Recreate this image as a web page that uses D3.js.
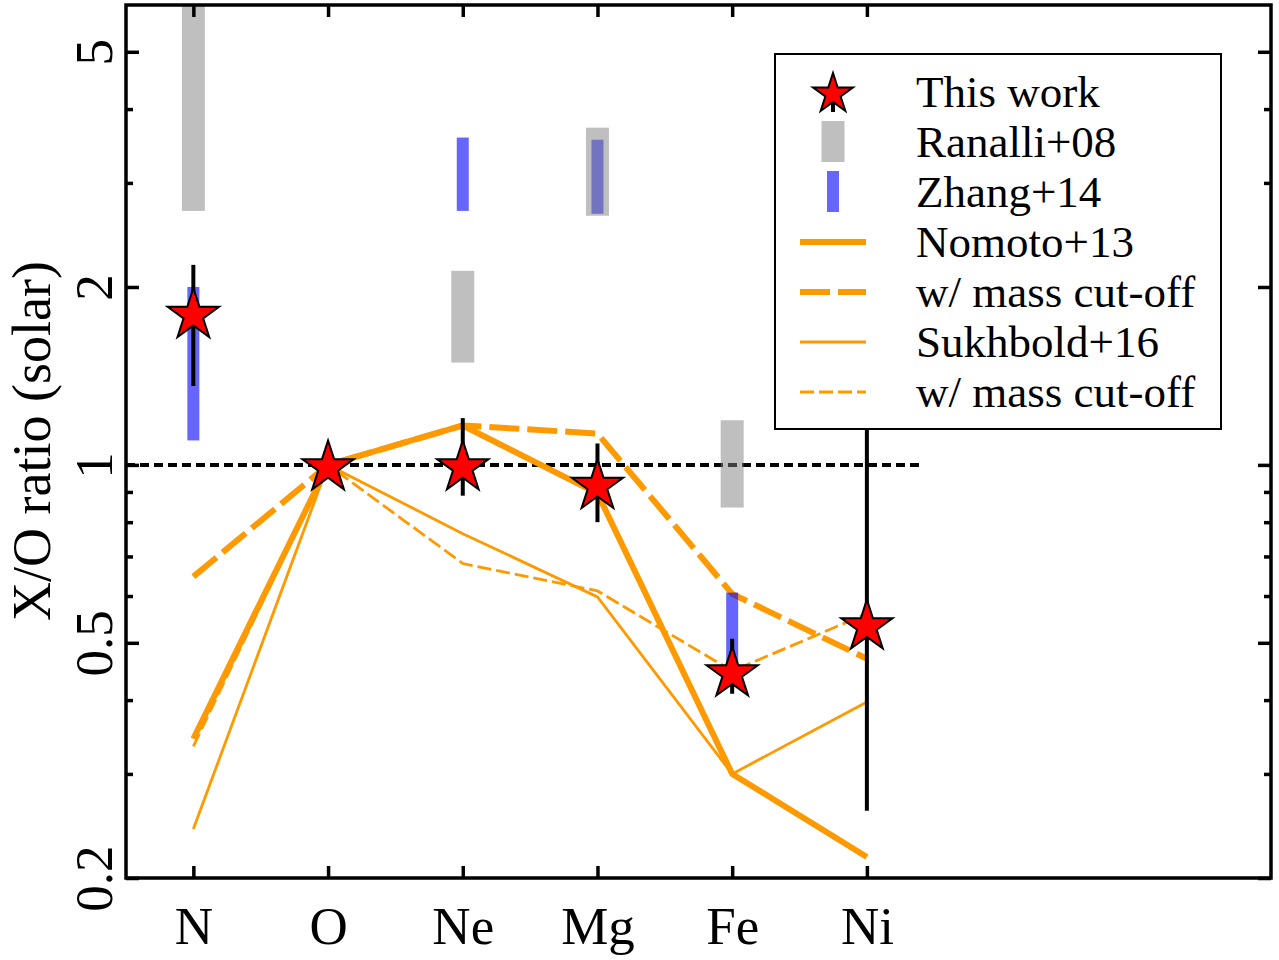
<!DOCTYPE html>
<html>
<head>
<meta charset="utf-8">
<script src="https://cdn.jsdelivr.net/npm/d3@7"></script>
<style>
  html, body { margin: 0; padding: 0; background: #fff; }
  svg { display: block; }
  text { font-family: "Liberation Serif", "Times New Roman", serif; fill: #000; }
</style>
</head>
<body>
<svg id="chart" width="1279" height="960"></svg>
<script>
// Elements along the x axis
const elements = ["N", "O", "Ne", "Mg", "Fe", "Ni"];

// This work: X/O ratios (solar) with error ranges
const thisWork   = [1.81, 1.00, 1.00, 0.93, 0.448, 0.538];
const thisWorkLo = [1.36, 1.00, 0.887, 0.80, 0.41, 0.26];
const thisWorkHi = [2.18, 1.00, 1.20, 1.087, 0.508, 1.60];

// Ranalli+08 ranges
const ranalliEl = ["N", "Ne", "Mg", "Fe"];
const ranalliLo = [2.69, 1.49, 2.64, 0.847];
const ranalliHi = [6.00, 2.13, 3.72, 1.19];

// Zhang+14 ranges
const zhangEl = ["N", "Ne", "Mg", "Fe"];
const zhangLo = [1.10, 2.69, 2.66, 0.46];
const zhangHi = [2.00, 3.58, 3.55, 0.608];

// Supernova yield models
const nomoto      = [0.344, 1.0, 1.166, 0.895, 0.300, 0.217];
const nomotoCut   = [0.647, 1.0, 1.166, 1.13, 0.605, 0.47];
const sukhbold    = [0.242, 1.0, 0.765, 0.598, 0.300, 0.397];
const sukhboldCut = [0.334, 1.0, 0.681, 0.612, 0.448, 0.56];

// Axis ticks
const yMajorTicks = [0.2, 0.5, 1, 2, 5];
const yMajorLabels = ["0.2", "0.5", "1", "2", "5"];
const yMinorTicks = [0.3, 0.4, 0.6, 0.7, 0.8, 0.9, 3, 4];
const refLineEnd = 6.42;

const legendLabels = ["This work", "Ranalli+08", "Zhang+14", "Nomoto+13",
                      "w/ mass cut-off", "Sukhbold+16", "w/ mass cut-off"];

const ORANGE = "rgb(255,153,0)";
const FONT = '"Liberation Serif", "Times New Roman", serif';
const svg = d3.select("#chart");

const x = d3.scaleLinear().domain([0.5, 9]).range([126, 1271]);
const y = d3.scaleLog().domain([0.2, 6]).range([878, 5]);
const xPos = el => x(elements.indexOf(el) + 1);

const plot = svg.append("g");
const clipId = "plotclip";
svg.append("defs").append("clipPath").attr("id", clipId)
  .append("rect").attr("x", x(0.5)).attr("y", y(6))
  .attr("width", x(9) - x(0.5)).attr("height", y(0.2) - y(6));
plot.attr("clip-path", `url(#${clipId})`);

// Solar reference line
plot.append("line")
  .attr("x1", x(0.5)).attr("x2", x(refLineEnd))
  .attr("y1", y(1)).attr("y2", y(1))
  .attr("stroke", "#000").attr("stroke-width", 4)
  .attr("stroke-dasharray", "9,5");

// Model curves
const line = d3.line().x((d, i) => x(i + 1)).y(d => y(d));
const models = [
  { data: nomoto,      width: 6,   dash: null },
  { data: nomotoCut,   width: 6,   dash: "30,8" },
  { data: sukhbold,    width: 2.8, dash: null },
  { data: sukhboldCut, width: 2.8, dash: "14,5" }
];
models.forEach(m => {
  plot.append("path").datum(m.data)
    .attr("d", line)
    .attr("fill", "none")
    .attr("stroke", ORANGE)
    .attr("stroke-width", m.width)
    .attr("stroke-linejoin", "miter")
    .attr("stroke-dasharray", m.dash);
});

// Zhang+14 bars
plot.selectAll(".zhang").data(zhangEl).join("rect")
  .attr("x", d => xPos(d) - 6)
  .attr("width", 12)
  .attr("y", (d, i) => y(zhangHi[i]))
  .attr("height", (d, i) => y(zhangLo[i]) - y(zhangHi[i]))
  .attr("fill", "rgba(0,0,255,0.6)");

// Ranalli+08 bars
plot.selectAll(".ranalli").data(ranalliEl).join("rect")
  .attr("x", d => xPos(d) - 11.5)
  .attr("width", 23)
  .attr("y", (d, i) => y(ranalliHi[i]))
  .attr("height", (d, i) => y(ranalliLo[i]) - y(ranalliHi[i]))
  .attr("fill", "rgba(128,128,128,0.5)");

// Error bars of this work
plot.selectAll(".err").data(elements).join("line")
  .attr("x1", (d, i) => x(i + 1)).attr("x2", (d, i) => x(i + 1))
  .attr("y1", (d, i) => y(thisWorkLo[i]))
  .attr("y2", (d, i) => y(thisWorkHi[i]))
  .attr("stroke", "#000").attr("stroke-width", 4);

// Star markers
const starR = 27;
const starSym = d3.symbol(d3.symbolStar, starR * starR / 0.8908130915292852);
plot.selectAll(".star").data(thisWork).join("path")
  .attr("d", starSym)
  .attr("transform", (d, i) => `translate(${x(i + 1)},${y(d) + 0.0955 * starR})`)
  .attr("fill", "#ff0000")
  .attr("stroke", "#000")
  .attr("stroke-width", 2);

// Legend
const lg = svg.append("g");
lg.append("rect")
  .attr("x", 775).attr("y", 54).attr("width", 446).attr("height", 375)
  .attr("fill", "#fff").attr("stroke", "#000").attr("stroke-width", 2);
const rowY = i => 92 + i * 50;
const symX = 833;
legendLabels.forEach((t, i) => {
  lg.append("text").attr("x", 916).attr("y", rowY(i) + 15)
    .attr("font-size", 45).text(t);
});
const lgR = 21;
lg.append("line").attr("x1", symX).attr("x2", symX)
  .attr("y1", rowY(0)).attr("y2", rowY(0) + 20)
  .attr("stroke", "#000").attr("stroke-width", 4);
lg.append("path")
  .attr("d", d3.symbol(d3.symbolStar, lgR * lgR / 0.8908130915292852))
  .attr("transform", `translate(${symX},${rowY(0) + 0.0955 * lgR})`)
  .attr("fill", "#ff0000").attr("stroke", "#000").attr("stroke-width", 2);
lg.append("rect").attr("x", symX - 11.5).attr("width", 23)
  .attr("y", rowY(1) - 21).attr("height", 41)
  .attr("fill", "rgba(128,128,128,0.5)");
lg.append("rect").attr("x", symX - 6).attr("width", 12)
  .attr("y", rowY(2) - 21).attr("height", 41)
  .attr("fill", "rgba(0,0,255,0.6)");
models.forEach((m, k) => {
  lg.append("line")
    .attr("x1", 800).attr("x2", 866)
    .attr("y1", rowY(3 + k)).attr("y2", rowY(3 + k))
    .attr("stroke", ORANGE).attr("stroke-width", m.width)
    .attr("stroke-dasharray", m.dash);
});

// Axes
const ax = svg.append("g");

const leftAxis = ax.append("g").attr("transform", `translate(${x(0.5)},0)`)
  .call(d3.axisLeft(y).tickValues(yMajorTicks)
    .tickFormat((d, i) => yMajorLabels[i]).tickSizeInner(-13).tickSizeOuter(0));
leftAxis.selectAll("text")
  .attr("x", null).attr("dy", null)
  .attr("text-anchor", "middle")
  .attr("transform", "translate(-14,0) rotate(-90)");

const leftMinor = ax.append("g").attr("transform", `translate(${x(0.5)},0)`)
  .call(d3.axisLeft(y).tickValues(yMinorTicks).tickFormat("").tickSizeInner(-7).tickSizeOuter(0));

const rightAxis = ax.append("g").attr("transform", `translate(${x(9)},0)`)
  .call(d3.axisRight(y).tickValues(yMajorTicks).tickFormat("").tickSizeInner(-13).tickSizeOuter(0));
const rightMinor = ax.append("g").attr("transform", `translate(${x(9)},0)`)
  .call(d3.axisRight(y).tickValues(yMinorTicks).tickFormat("").tickSizeInner(-7).tickSizeOuter(0));

const bottomAxis = ax.append("g").attr("transform", `translate(0,${y(0.2)})`)
  .call(d3.axisBottom(x).tickValues([1, 2, 3, 4, 5, 6])
    .tickFormat(d => elements[d - 1]).tickSizeInner(-12).tickSizeOuter(0));
bottomAxis.selectAll("text").attr("y", 66).attr("dy", null);

const topAxis = ax.append("g").attr("transform", `translate(0,${y(6)})`)
  .call(d3.axisTop(x).tickValues([1, 2, 3, 4, 5, 6])
    .tickFormat("").tickSizeInner(-12).tickSizeOuter(0));

[leftAxis, leftMinor, rightAxis, rightMinor, bottomAxis, topAxis].forEach(g => {
  g.attr("font-size", 53).attr("font-family", FONT);
  g.select(".domain").remove();
  g.selectAll(".tick line").attr("stroke", "#000").attr("stroke-width", 3.5);
  g.selectAll("text").attr("fill", "#000");
});

// Frame
svg.append("rect")
  .attr("x", x(0.5)).attr("y", y(6))
  .attr("width", x(9) - x(0.5)).attr("height", y(0.2) - y(6))
  .attr("fill", "none").attr("stroke", "#000").attr("stroke-width", 3.5);

// Y axis title
svg.append("text")
  .attr("transform", `translate(50,441) rotate(-90)`)
  .attr("text-anchor", "middle")
  .attr("font-size", 54)
  .text("X/O ratio (solar)");
</script>
</body>
</html>
